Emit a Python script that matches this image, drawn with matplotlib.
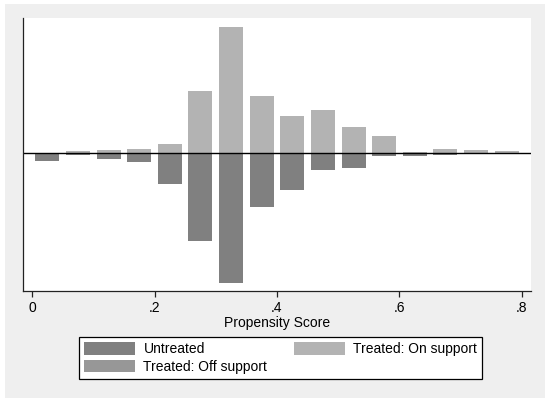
import matplotlib.pyplot as plt  # make plots
from matplotlib.patches import Rectangle, Patch
import numpy as np

# bin centres of the propensity score histogram
bin_centers = [0.025, 0.075, 0.125, 0.175, 0.225, 0.275, 0.325, 0.375,
               0.425, 0.475, 0.525, 0.575, 0.625, 0.675, 0.725, 0.775]

# treated on support (drawn above zero)
treated_on = [0, 1.5, 2.5, 3.5, 7, 46.6, 95, 43,
              27.8, 32.3, 19.8, 13, 1.3, 3.5, 2.5, 1.5]

# treated off support (none in this sample)
treated_off = [0] * 16

# untreated (drawn below zero)
untreated = [5.5, 1.5, 4, 6.2, 23.3, 66, 97.2, 40.6,
             27.3, 12.6, 11.3, 2, 2, 1.5, 0.75, 0.4]

xticks = [0, 0.2, 0.4, 0.6, 0.8]
xtick_labels = ["0", ".2", ".4", ".6", ".8"]

dark = "#808080"
light = "#b3b3b3"
off_col = "#979797"

plt.rcParams['font.family'] = ['Liberation Sans', 'DejaVu Sans']

fig = plt.figure(figsize=(5.5, 4.03), dpi=100)
fig.patch.set_facecolor("white")

# grey Stata-style background panel
fig.patches.append(Rectangle((5 / 550, 1 - 398 / 403), 540 / 550, 394 / 403,
                             transform=fig.transFigure, facecolor="#efefef",
                             edgecolor="none", zorder=-5))

ax = fig.add_axes([23 / 550, 1 - 291 / 403, 508 / 550, 273 / 403])
ax.set_zorder(2)
ax.set_facecolor("white")

width = 0.039
ax.bar(bin_centers, treated_on, width=width, color=light, linewidth=0)
ax.bar(bin_centers, treated_off, width=width, bottom=treated_on, color=off_col, linewidth=0)
ax.bar(bin_centers, -np.array(untreated), width=width, color=dark, linewidth=0)
ax.axhline(0, color="black", linewidth=1)

ax.set_xlim(-0.0147, 0.8147)
ax.set_ylim(-103.5, 101.7)

for side in ["top", "right"]:
    ax.spines[side].set_visible(False)
for side in ["left", "bottom"]:
    ax.spines[side].set_color("#222222")
    ax.spines[side].set_linewidth(0.9)

ax.set_yticks([])
ax.set_xticks(xticks)
ax.set_xticklabels(xtick_labels, fontsize=10)
ax.tick_params(axis="x", length=4, width=0.9, color="#222222", pad=3)
ax.set_xlabel("Propensity Score", fontsize=10, labelpad=1)

# legend: order so that column 1 holds untreated / off support
handles = [Patch(facecolor=dark), Patch(facecolor=off_col), Patch(facecolor=light)]
labels = ["Untreated", "Treated: Off support", "Treated: On support"]
leg = fig.legend(handles, labels, ncol=2, loc="center",
                 bbox_to_anchor=(280.5 / 550, 1 - 358 / 403),
                 fontsize=10, frameon=True, fancybox=False,
                 handlelength=3.7, handleheight=1.0, handletextpad=0.6,
                 columnspacing=1.9, labelspacing=0.25, borderpad=0.35)
leg.set_zorder(3)
leg.get_frame().set_edgecolor("black")
leg.get_frame().set_linewidth(0.9)
leg.get_frame().set_facecolor("white")
leg.get_frame().set_alpha(1)

plt.savefig("out.png", dpi=100)
